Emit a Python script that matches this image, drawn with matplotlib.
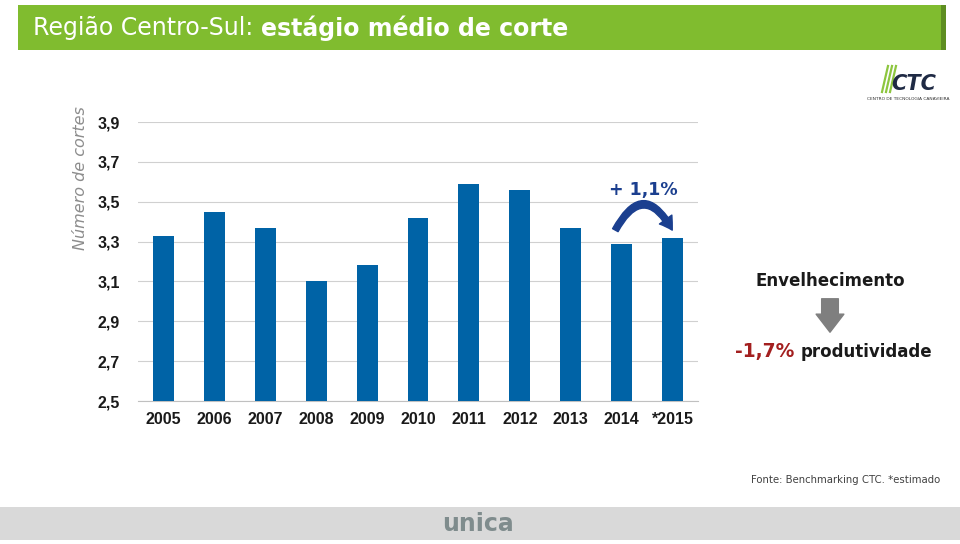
import numpy as np
import matplotlib
matplotlib.use("Agg")
import matplotlib.pyplot as plt
from matplotlib.patches import Rectangle, FancyArrowPatch

# data
anos = ["2005", "2006", "2007", "2008", "2009", "2010", "2011", "2012", "2013", "2014", "*2015"]
cortes = [3.33, 3.45, 3.37, 3.10, 3.18, 3.42, 3.59, 3.56, 3.37, 3.29, 3.32]
yticks = [2.5, 2.7, 2.9, 3.1, 3.3, 3.5, 3.7, 3.9]
ytick_labels = ["2,5", "2,7", "2,9", "3,1", "3,3", "3,5", "3,7", "3,9"]

plt.rcParams['font.family'] = ['DejaVu Sans']

fig = plt.figure(figsize=(9.6, 5.44), dpi=100)
W, H = 960, 544

def fx(px):
    return px / W

def fy(py):
    return 1 - py / H

# green title bar
fig.patches.append(Rectangle((fx(18), fy(50)), fx(928), 45 / H, transform=fig.transFigure,
                             facecolor="#80BC2F", edgecolor="none", zorder=0))
fig.patches.append(Rectangle((fx(941), fy(50)), fx(5), 45 / H, transform=fig.transFigure,
                             facecolor="#5E8E22", edgecolor="none", zorder=0))
t1 = fig.text(fx(33), fy(28), "Região Centro-Sul: ", color="white", fontsize=17,
              va="center", ha="left")
fig.canvas.draw()
bb = t1.get_window_extent()
fig.text(bb.x1 / W, fy(28), "estágio médio de corte", color="white", fontsize=17,
         fontweight="bold", va="center", ha="left")

# gray footer bar
fig.patches.append(Rectangle((0, fy(540)), 1, 33 / H, transform=fig.transFigure,
                             facecolor="#D9D9D9", edgecolor="none", zorder=0))
fig.text(fx(478), fy(524), "unica", color="#7F8C8D", fontsize=17, fontweight="bold",
         va="center", ha="center")
fig.text(fx(940), fy(480), "Fonte: Benchmarking CTC. *estimado", color="#404040",
         fontsize=7.3, va="center", ha="right")

# CTC logo (text approximation)
fig.text(fx(914), fy(84), "CTC", color="#1F2A44", fontsize=15, fontweight="bold",
         style="italic", va="center", ha="center")
fig.text(fx(908), fy(99), "CENTRO DE TECNOLOGIA CANAVIEIRA", color="#333333",
         fontsize=3.2, va="center", ha="center")
for dx in [0, 4, 8]:
    fig.add_artist(plt.Line2D([fx(882 + dx), fx(888 + dx)], [fy(92), fy(66)],
                              transform=fig.transFigure, color="#8DC63F", lw=1.6))

# main axes
ax = fig.add_axes([fx(138), fy(401), fx(560), (401 - 122) / H])
x = np.arange(len(anos))
ax.bar(x, cortes, width=0.41, color="#0063A6", zorder=3)
ax.set_ylim(2.5, 3.9)
ax.set_xlim(-0.5, len(anos) - 0.5)
ax.set_yticks(yticks)
ax.set_yticklabels(ytick_labels, fontsize=11.5, fontweight="bold", color="#1a1a1a",
                   family="Liberation Sans")
ax.set_xticks(x)
ax.set_xticklabels(anos, fontsize=11.5, fontweight="bold", color="#1a1a1a",
                   family="Liberation Sans")
ax.grid(axis="y", color="#D0D0D0", lw=0.8, zorder=0)
for s in ["top", "right", "left"]:
    ax.spines[s].set_visible(False)
ax.spines["bottom"].set_color("#C0C0C0")
ax.tick_params(axis="y", length=0, pad=13)
ax.tick_params(axis="x", length=0, pad=8)
ax.set_ylabel("Número de cortes", fontsize=11.5, style="italic", color="#8C8C8C")
ax.yaxis.set_label_coords(-0.09, 0.8)

# curved arrow 2014 -> 2015
arr = FancyArrowPatch((8.85, 3.345), (10.02, 3.345), connectionstyle="arc3,rad=-0.95",
                      arrowstyle="simple,head_width=11,head_length=9,tail_width=4.5",
                      color="#1B3F8F", zorder=4, clip_on=False)
ax.add_patch(arr)
ax.text(9.43, 3.56, "+ 1,1%", color="#1B3F8F", fontsize=12.5, fontweight="bold",
        ha="center", va="center")

# side annotation
fig.text(fx(830), fy(281), "Envelhecimento", color="#1a1a1a", fontsize=12,
         fontweight="bold", ha="center", va="center")
fig.patches.append(FancyArrowPatch((fx(830), fy(296)), (fx(830), fy(335)),
                                   transform=fig.transFigure,
                                   arrowstyle="simple,head_width=20,head_length=13,tail_width=12",
                                   color="#7F7F7F"))
t2 = fig.text(fx(735), fy(352), "-1,7% ", color="#A31F1F", fontsize=13.5,
              fontweight="bold", ha="left", va="center")
fig.canvas.draw()
bb2 = t2.get_window_extent()
fig.text(bb2.x1 / W, fy(352), "produtividade", color="#1a1a1a", fontsize=12,
         fontweight="bold", ha="left", va="center")

fig.savefig("out.png", dpi=100)
